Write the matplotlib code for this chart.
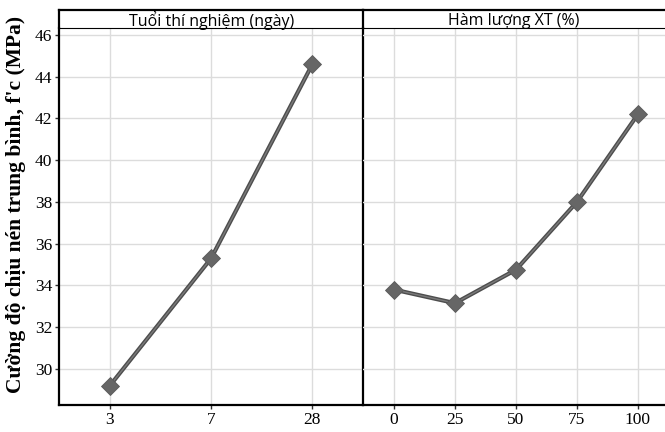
import matplotlib
matplotlib.use('Agg')
import matplotlib.pyplot as plt

# data
age_labels = ['3', '7', '28']
age_strength = [29.2, 35.3, 44.6]
xt_content = [0, 25, 50, 75, 100]
xt_strength = [33.8, 33.15, 34.75, 38.0, 42.2]

y_ticks = [30, 32, 34, 36, 38, 40, 42, 44, 46]
ylim = (28.27, 46.32)

panel_titles = ['Tuổi thí nghiệm (ngày)', 'Hàm lượng XT (%)']
ylabel = "Cường độ chịu nén trung bình, f'c (MPa)"

serif = ['Liberation Serif', 'DejaVu Serif']
strip_font = ['Open Sans', 'DejaVu Sans']

W, H = 665, 432
fig = plt.figure(figsize=(W / 100, H / 100), dpi=100)

x_left, x_mid = 59.3 / W, 363.0 / W
y_bot, y_top, strip_top = 1 - 405 / H, 1 - 28.3 / H, 1 - 9.8 / H

ax1 = fig.add_axes([x_left, y_bot, x_mid - x_left, y_top - y_bot])
ax2 = fig.add_axes([x_mid, y_bot, 1.0 - x_mid, y_top - y_bot])
ax2.patch.set_visible(False)


def draw_line(ax, x, y):
    ax.plot(x, y, color='#4d4d4d', lw=3.0, solid_capstyle='round', zorder=3)
    ax.plot(x, y, color='#7a7a7a', lw=1.0, zorder=4)
    ax.plot(x, y, ls='none', marker='D', ms=9, color='#666666',
            markeredgecolor='#5a5a5a', markeredgewidth=0.6, zorder=5)


age_pos = list(range(1, len(age_labels) + 1))
draw_line(ax1, age_pos, age_strength)
ax1.set_xlim(0.5, 3.5)
ax1.set_xticks(age_pos)
ax1.set_xticklabels(age_labels)

draw_line(ax2, xt_content, xt_strength)
ax2.set_xlim(-12.7, 111.1)
ax2.set_xticks(xt_content)

for ax in (ax1, ax2):
    ax.set_ylim(*ylim)
    ax.set_yticks(y_ticks)
    ax.grid(True, color='#dcdcdc', lw=1.0, zorder=0)
    ax.set_axisbelow(True)
    ax.tick_params(direction='out', length=3, width=1.0, color='#333333',
                   labelsize=12.5, pad=2)
    for lab in ax.get_xticklabels() + ax.get_yticklabels():
        lab.set_family(serif)
    for s in ax.spines.values():
        s.set_linewidth(1.6)
        s.set_color('black')
    ax.spines['top'].set_linewidth(0.8)

ax1.spines['right'].set_zorder(10)
ax2.tick_params(axis='y', left=False, labelleft=False)
ax2.spines['right'].set_visible(False)
ax2.spines['left'].set_visible(False)

ax1.set_ylabel(ylabel, family=serif, fontweight='bold', fontsize=15.5)
ax1.yaxis.set_label_coords(-0.11, 0.532)

# strip headers above each panel
for ax, (x0, x1), title in zip((ax1, ax2), ((x_left, x_mid), (x_mid, 1.0)), panel_titles):
    sax = fig.add_axes([x0, y_top, x1 - x0, strip_top - y_top])
    sax.patch.set_visible(False)
    sax.set_xticks([])
    sax.set_yticks([])
    sax.spines['bottom'].set_visible(False)
    for side in ('top', 'left', 'right'):
        sax.spines[side].set_linewidth(1.6)
    if ax is ax2:
        sax.spines['right'].set_visible(False)
        sax.spines['left'].set_visible(False)
    sax.text(0.5, 0.42, title, ha='center', va='center', family=strip_font,
             fontsize=11.5, transform=sax.transAxes)

fig.savefig('out.png', dpi=100)
